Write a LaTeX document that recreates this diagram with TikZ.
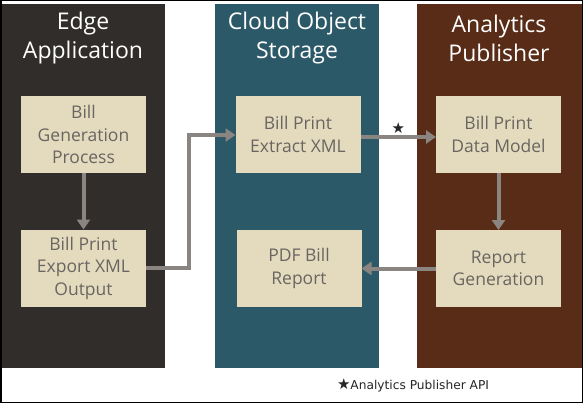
\documentclass[tikz,border=0pt]{standalone}
\usepackage{fontspec}
\setmainfont{Open Sans}
\newfontfamily\djv{DejaVu Sans}
\usetikzlibrary{arrows.meta}
\definecolor{edgebg}{HTML}{312D2A}
\definecolor{cloudbg}{HTML}{2C5967}
\definecolor{apbg}{HTML}{582C17}
\definecolor{boxfill}{HTML}{E4DBBF}
\definecolor{boxtext}{HTML}{6A6560}
\definecolor{arrowc}{HTML}{8A8580}
\tikzset{
  head/.style={text=white, font=\fontsize{23}{29}\selectfont, align=center, inner sep=0pt},
  stepbox/.style={fill=boxfill, minimum width=125pt, minimum height=77pt, inner sep=0pt, outer sep=0pt,
    text=boxtext, font=\fontsize{17.5}{22.5}\selectfont, align=center},
  conn/.style={draw=arrowc, line width=4pt, -{Triangle[length=10pt,width=13pt]}}
}
\begin{document}
\begin{tikzpicture}[x=1pt,y=-1pt]
\useasboundingbox (0,0) rectangle (583,404);
\fill[white] (0,0) rectangle (583,404);
\draw[black, line width=1.5pt] (0.75,0.75) rectangle (582.25,402.5);
% columns
\fill[edgebg] (1.5,4) rectangle (165,368);
\fill[cloudbg] (215,4) rectangle (379,368);
\fill[apbg] (417,4) rectangle (581.5,368);
% headers
\node[head] (h1) at (83,38) {Edge\\Application};
\node[head] (h2) at (297,38) {Cloud Object\\Storage};
\node[head] (h3) at (499,38) {Analytics\\Publisher};
% boxes
\node[stepbox] (bgp) at (83.5,134.5) {Bill\\Generation\\Process};
\node[stepbox] (bpe) at (83.5,268) {Bill Print\\Export XML\\Output};
\node[stepbox] (bex) at (298,134.5) {Bill Print\\Extract XML};
\node[stepbox] (pdf) at (299,268.5) {PDF Bill\\Report};
\node[stepbox] (bdm) at (498.5,134.5) {Bill Print\\Data Model};
\node[stepbox] (rg) at (498.5,268.5) {Report\\Generation};
% connectors
\draw[conn] (bgp.south) -- (bpe.north);
\coordinate (e1) at (189,268);
\coordinate (e2) at (189,135);
\draw[conn] (bpe.east) -- (e1) -- (e2) -- (bex.west |- e2);
\draw[conn] (bex.east |- 0,137) -- node[above=0pt, text=black!85, font=\djv\fontsize{15}{15}\selectfont, inner sep=1pt] (star) {★} (bdm.west |- 0,137);
\draw[conn] (bdm.south) -- (rg.north);
\draw[conn] (rg.west) -- (pdf.east);
% footnote
\node[font=\djv\fontsize{12.2}{14}\selectfont, text=black!85, inner sep=0pt] (foot) at (413,385) {{\fontsize{15}{15}\selectfont ★}Analytics Publisher API};
\end{tikzpicture}
\end{document}
